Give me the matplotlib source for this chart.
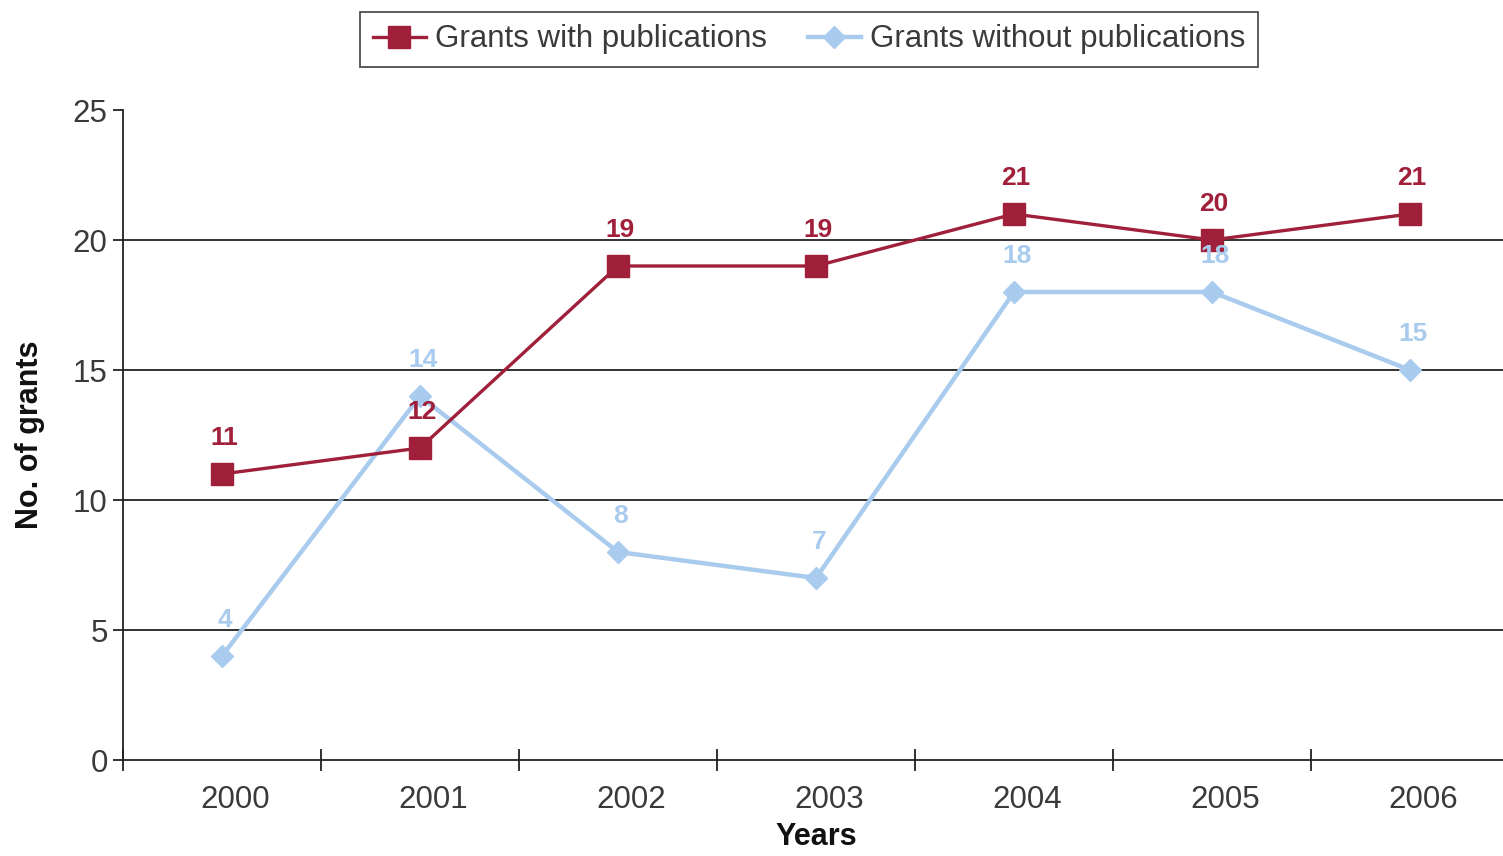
import matplotlib
matplotlib.use("Agg")
from matplotlib import pyplot as plt
from matplotlib import transforms

plt.rcParams['font.family'] = ['Liberation Sans', 'DejaVu Sans']

# data
years = ["2000", "2001", "2002", "2003", "2004", "2005", "2006"]
with_pubs = [11, 12, 19, 19, 21, 20, 21]
without_pubs = [4, 14, 8, 7, 18, 18, 15]

red = "#A01F3A"
blue = "#A9CCEE"
grey = "#3a3a3a"

fig = plt.figure(figsize=(15.03, 8.56), dpi=100)
ax = fig.add_axes([123 / 1503, 1 - 760 / 856, (1509 - 123) / 1503, 650 / 856])

x = list(range(len(years)))
ax.plot(x, with_pubs, color=red, lw=2.4, marker="s", ms=16,
        label="Grants with publications", zorder=4)
ax.plot(x, without_pubs, color=blue, lw=3.2, marker="D", ms=11,
        label="Grants without publications", zorder=3)

# value labels
for i, v in enumerate(with_pubs):
    ax.annotate(str(v), (i, v), xytext=(2, 36), textcoords="offset pixels",
                ha="center", va="center", color=red, fontsize=19,
                fontweight="bold", zorder=5)
for i, v in enumerate(without_pubs):
    ax.annotate(str(v), (i, v), xytext=(3, 36), textcoords="offset pixels",
                ha="center", va="center", color=blue, fontsize=19,
                fontweight="bold", zorder=5)

ax.set_xlim(-0.5, 6.5)
ax.set_ylim(0, 25)
ax.set_yticks([0, 5, 10, 15, 20, 25])
for y in [5, 10, 15, 20]:
    ax.axhline(y, color="#222222", lw=1.3, zorder=1)

# category boundary ticks on x, labels in between
ax.set_xticks([i - 0.5 for i in range(8)])
ax.set_xticklabels([])
ax.set_xticks(x, minor=True)
ax.set_xticklabels(years, minor=True, fontsize=22.5, color=grey)
ax.tick_params(axis="x", which="major", direction="inout", length=16,
               width=1.3, color="#222222")
ax.tick_params(axis="x", which="minor", length=0, pad=18)
off = transforms.ScaledTranslation(13 / 100, 0, fig.dpi_scale_trans)
for lab in ax.get_xticklabels(minor=True):
    lab.set_transform(lab.get_transform() + off)

ax.tick_params(axis="y", direction="out", length=7, width=1.3,
               color="#222222", labelsize=22.5, labelcolor=grey, pad=4)

for s in ["top", "right"]:
    ax.spines[s].set_visible(False)
for s in ["left", "bottom"]:
    ax.spines[s].set_color("#222222")
    ax.spines[s].set_linewidth(1.3)

ax.set_xlabel("Years", fontsize=22, fontweight="bold", color="#111111",
              labelpad=5)
ax.set_ylabel("No. of grants", fontsize=22, fontweight="bold",
              color="#111111", labelpad=20)

leg = fig.legend(loc="upper center", bbox_to_anchor=(809 / 1503, 1 - 12 / 856),
                 ncol=2, fontsize=22.5, frameon=True, fancybox=False,
                 edgecolor="#222222", handlelength=1.7, columnspacing=1.3,
                 borderpad=0.4, handletextpad=0.3, borderaxespad=0)
leg.get_frame().set_linewidth(1.3)
for t in leg.get_texts():
    t.set_color(grey)

fig.savefig("out.png", dpi=100)
